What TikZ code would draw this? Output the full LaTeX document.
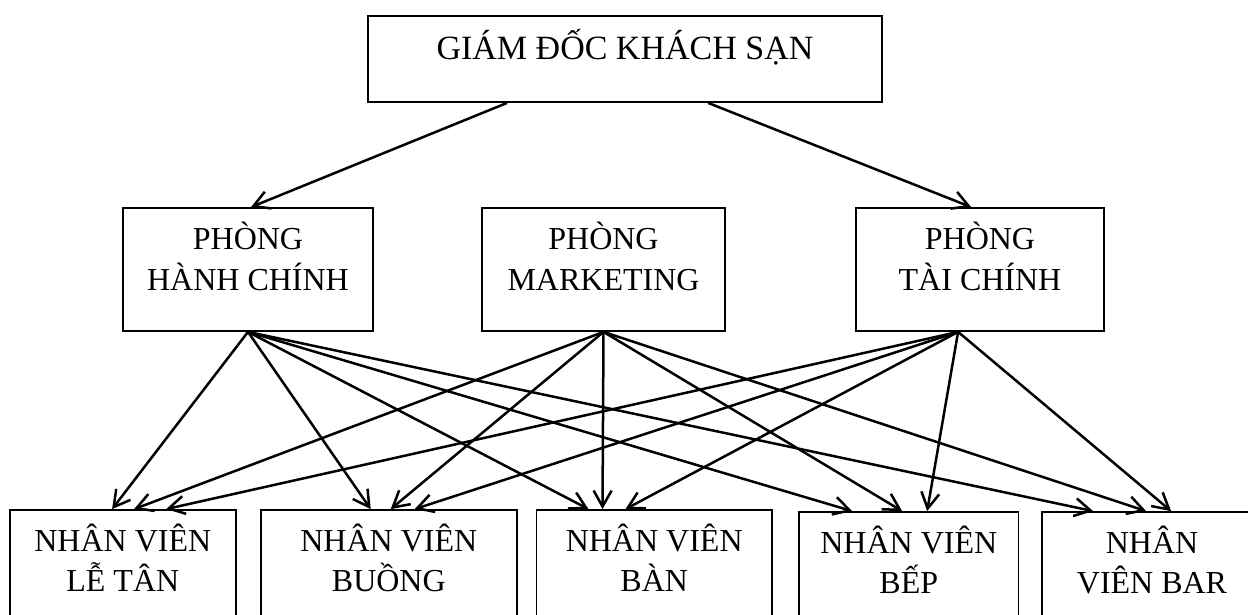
\documentclass[tikz,border=0pt]{standalone}
\usepackage{fontspec}
\setmainfont{Liberation Serif}
\usetikzlibrary{arrows.meta,calc}

\begin{document}
\begin{tikzpicture}[x=1pt,y=-1pt,
    box/.style={draw,line width=1.8pt,inner sep=0pt,align=center},
    mid/.style={box,minimum height=123pt,text height=51pt,text depth=10pt,font=\fontsize{32}{41}\selectfont},
    nv/.style={box,minimum height=130pt,text height=42pt,text depth=10pt,font=\fontsize{32}{40}\selectfont},
    arr/.style={line width=2.5pt,-{Straight Barb[length=16pt,width=18pt]}}]
        \useasboundingbox (0,0) rectangle (1248,614);
        \clip (0,0) rectangle (1248,614);
        \node[box,minimum width=514pt,minimum height=86pt,text height=12pt,text depth=12pt,font=\fontsize{34}{40}\selectfont] (gd) at (625,59) {GIÁM ĐỐC KHÁCH SẠN};
        \node[mid,minimum width=250pt] (hc) at (248,269.5) {PHÒNG\\HÀNH CHÍNH};
        \node[mid,minimum width=243.5pt] (mk) at (603.5,269.5) {PHÒNG\\MARKETING};
        \node[mid,minimum width=248pt] (tc) at (980,269.5) {PHÒNG\\TÀI CHÍNH};
        \node[nv,minimum width=225.6pt] (lt) at (122.8,575) {NHÂN VIÊN\\LỄ TÂN};
        \node[nv,minimum width=256.4pt] (bu) at (388.8,575) {NHÂN VIÊN\\BUỒNG};
        \node[nv,minimum width=235.6pt] (ba) at (654.2,575) {NHÂN VIÊN\\BÀN};
        \node[nv,minimum width=219.5pt] (be) at (908.8,577) {NHÂN VIÊN\\BẾP};
        \node[nv,minimum width=220pt] (bar) at (1152,577) {NHÂN\\VIÊN BAR};
        \coordinate (tcs) at ($(tc.south west)+(103,0)$);
        \draw[arr] ($(gd.south west)+(140,0)$) -- ($(hc.north)+(3,0)$);
        \draw[arr] ($(gd.south west)+(341,0)$) -- ($(tc.north west)+(116,0)$);
        \foreach \t/\a/\b/\c in {lt/103/125/157,bu/111/131/155,ba/53/67/90,be/54/104/129,bar/52/105/130}{
            \draw[arr] (hc.south) -- ($(\t.north west)+(\a,0)$);
            \draw[arr] (mk.south) -- ($(\t.north west)+(\b,0)$);
            \draw[arr] (tcs) -- ($(\t.north west)+(\c,0)$);
        }
\end{tikzpicture}
\end{document}
